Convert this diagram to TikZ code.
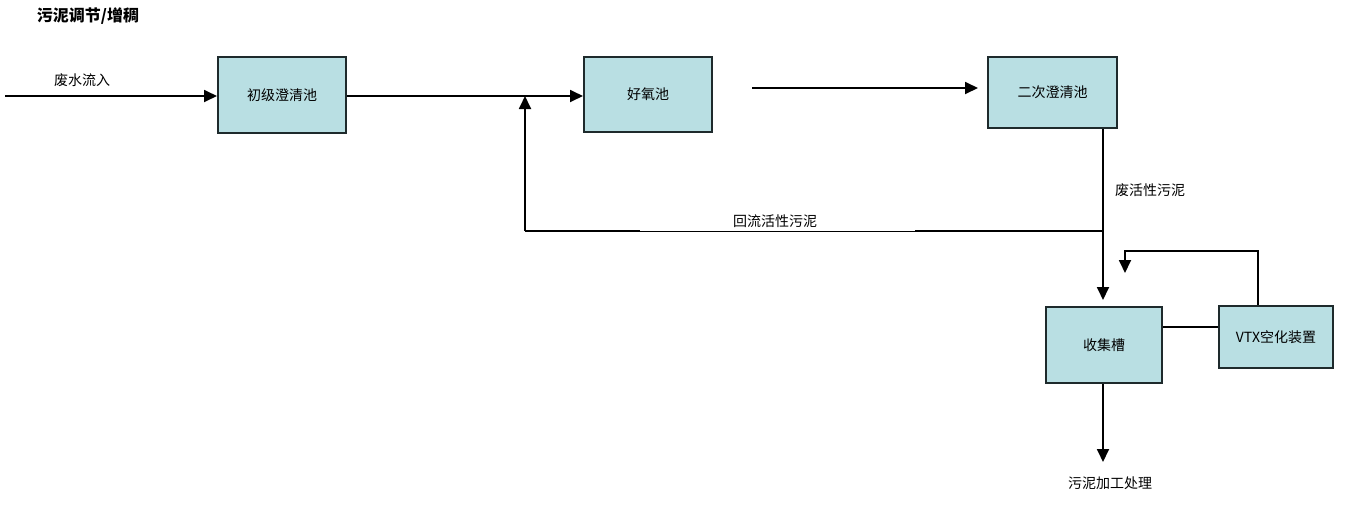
\documentclass[tikz,border=0pt]{standalone}
\usepackage{fontspec}
\setmainfont{Noto Sans CJK SC}
\usetikzlibrary{arrows.meta}
\definecolor{boxfill}{HTML}{B9DFE3}
\definecolor{boxline}{HTML}{1E2A2C}
\begin{document}
\begin{tikzpicture}[x=1pt,y=-1pt,
  tank/.style={draw=boxline,line width=2pt,fill=boxfill,minimum width=#1,inner sep=0pt,font=\fontsize{14}{16}\selectfont},
  flow/.style={line width=1.8pt,-{Triangle[length=13pt,width=12pt]}},
  plain/.style={line width=1.8pt},
  lbl/.style={font=\fontsize{14}{16}\selectfont,inner sep=0pt}]
\useasboundingbox (0,0) rectangle (1353,520);
\node[lbl,font=\bfseries\fontsize{16}{18}\selectfont] (title) at (88,16) {污泥调节/增稠};
\node[tank=128pt,minimum height=76pt] (b1) at (282,95) {初级澄清池};
\node[tank=128pt,minimum height=75pt] (b2) at (648,94.5) {好氧池};
\node[tank=129pt,minimum height=71pt] (b3) at (1052.5,92.5) {二次澄清池};
\node[tank=116pt,minimum height=76pt] (b4) at (1104,345) {收集槽};
\node[tank=114pt,minimum height=62pt] (b5) at (1276,337) {VTX空化装置};
\coordinate (in) at (5,96);
\node[lbl] (t1) at (82,80) {废水流入};
\draw[flow] (in) -- (b1.west |- in);
\draw[flow] (b1.east |- in) -- (b2.west |- in);
\coordinate (o2) at (752,88);
\coordinate (i3) at (978,88);
\draw[flow] (o2) -- (i3);
\coordinate (j) at (1103,231);
\coordinate (r) at (525,231);
\coordinate (rt) at (525,96);
\draw[flow] (b3.south -| j) -- (1103,300);
\draw[plain] (j) -- (915,231);
\draw[line width=0.8pt] (915,231) -- (640,231);
\draw[plain] (640,231) -- (r);
\draw[flow] (r) -- (rt);
\node[lbl] (t2) at (775,221) {回流活性污泥};
\node[lbl] (t3) at (1150,190) {废活性污泥};
\draw[plain] (b4.east |- 0,327) -- (b5.west |- 0,327);
\coordinate (v1) at (1258,251);
\coordinate (v2) at (1125,251);
\draw[flow] (b5.north -| v1) -- (v1) -- (v2) -- (1125,273);
\coordinate (out) at (1103,462);
\draw[flow] (b4.south -| out) -- (out);
\node[lbl] (t4) at (1110,483) {污泥加工处理};
\end{tikzpicture}
\end{document}
